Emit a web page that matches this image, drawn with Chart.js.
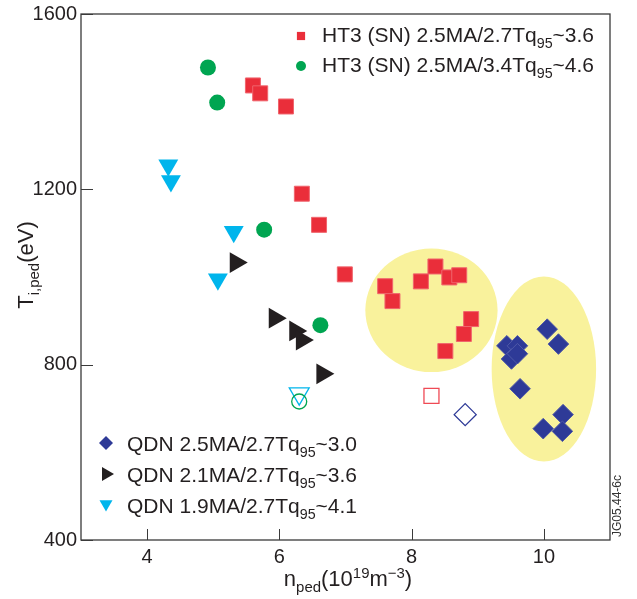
<!DOCTYPE html>
<html>
<head>
<meta charset="utf-8">
<script src="https://cdn.jsdelivr.net/npm/chart.js@4/dist/chart.umd.min.js"></script>
<style>
  html, body { margin: 0; padding: 0; background: #fff; }
</style>
</head>
<body>
<canvas id="chart" width="637" height="599"></canvas>
<script>
// ---- data (n_ped in 1e19 m^-3, T_i,ped in eV) ----
const xTicks = [4, 6, 8, 10];
const yTicks = [400, 800, 1200, 1600];

const ht3Sq = [[5.60,1437],[5.71,1419],[6.10,1389],[6.34,1190],[6.60,1119],[6.99,1006],
  [7.60,979],[7.71,945],[8.14,990],[8.36,1024],[8.57,999],[8.72,1004],[8.90,904],[8.79,870],[8.51,831]];
const ht3Circ = [[4.92,1478],[5.06,1398],[5.77,1108],[6.62,890]];
const qdn25 = [[9.44,843],[9.60,843],[9.51,813],[9.60,825],[10.05,881],[10.22,847],
  [9.64,745],[9.99,654],[10.29,686],[10.28,648]];
const qdn21 = [[5.34,1033],[5.93,906],[6.24,877],[6.34,856],[6.65,779]];
const qdn19 = [[4.32,1255],[4.36,1219],[5.31,1103],[5.07,995]];

// open symbols
const ht3SqOpen = [[8.30,729]];
const ht3CircOpen = [[6.30,716]];
const qdn25Open = [[8.81,686]];
const qdn19Open = [[6.30,734]];

// highlighted regions: [cx, cy, rx, ry] in data units
const regions = [[8.30, 924, 1.0, 141], [10.0, 790, 0.79, 211]];

const FONT = '"Liberation Sans", Arial, Helvetica, sans-serif';
const RED = '#ea2e3a', GREEN = '#00a551', BLUE = '#2e3a97', BLACK = '#231f20', CYAN = '#00b5ec';

const pts = a => a.map(p => ({x: p[0], y: p[1]}));

function drawRich(ctx, parts, x, y, size) {
  let cx = x;
  for (const p of parts) {
    const s = p.s ? size * 0.68 : size;
    ctx.font = s + 'px ' + FONT;
    const dy = p.s === 'sub' ? size * 0.28 : p.s === 'sup' ? -size * 0.38 : 0;
    ctx.fillText(p.t, cx, y + dy);
    cx += ctx.measureText(p.t).width;
  }
  return cx - x;
}
function richWidth(ctx, parts, size) {
  let w = 0;
  for (const p of parts) {
    ctx.font = (p.s ? size * 0.68 : size) + 'px ' + FONT;
    w += ctx.measureText(p.t).width;
  }
  return w;
}

const legendItems = [
  {x: 301, y: 36, tx: 322, ty: 42, style: 'rect', r: 5.8, rot: 0, color: RED,
   parts: [{t: 'HT3 (SN) 2.5MA/2.7Tq'}, {t: '95', s: 'sub'}, {t: '~3.6'}]},
  {x: 301, y: 66, tx: 322, ty: 72, style: 'circle', r: 5, rot: 0, color: GREEN,
   parts: [{t: 'HT3 (SN) 2.5MA/3.4Tq'}, {t: '95', s: 'sub'}, {t: '~4.6'}]},
  {x: 106, y: 443, tx: 127, ty: 451, style: 'rectRot', r: 7, rot: 0, color: BLUE,
   parts: [{t: 'QDN 2.5MA/2.7Tq'}, {t: '95', s: 'sub'}, {t: '~3.0'}]},
  {x: 106, y: 474, tx: 127, ty: 482, style: 'triangle', r: 8, rot: 90, color: BLACK,
   parts: [{t: 'QDN 2.1MA/2.7Tq'}, {t: '95', s: 'sub'}, {t: '~3.6'}]},
  {x: 106, y: 504, tx: 127, ty: 513, style: 'triangle', r: 7.5, rot: 180, color: CYAN,
   parts: [{t: 'QDN 1.9MA/2.7Tq'}, {t: '95', s: 'sub'}, {t: '~4.1'}]}
];

const decor = {
  id: 'decor',
  beforeDatasetsDraw(chart) {
    const {ctx, scales: {x, y}} = chart;
    ctx.save();
    ctx.fillStyle = '#f9f29c';
    regions.forEach(e => {
      const px = x.getPixelForValue(e[0]), py = y.getPixelForValue(e[1]);
      const rx = Math.abs(x.getPixelForValue(e[0] + e[2]) - px);
      const ry = Math.abs(y.getPixelForValue(e[1] + e[3]) - py);
      ctx.beginPath();
      ctx.ellipse(px, py, rx, ry, 0, 0, Math.PI * 2);
      ctx.fill();
    });
    ctx.restore();
  },
  afterDatasetsDraw(chart) {
    const {ctx, chartArea: a, scales: {x, y}} = chart;
    ctx.save();
    // frame
    ctx.strokeStyle = '#3a3a3a';
    ctx.lineWidth = 1.3;
    ctx.strokeRect(a.left, a.top, a.right - a.left, a.bottom - a.top);
    // inward ticks
    ctx.lineWidth = 1;
    ctx.beginPath();
    xTicks.forEach(v => {
      const px = Math.round(x.getPixelForValue(v)) + 0.5;
      ctx.moveTo(px, a.bottom); ctx.lineTo(px, a.bottom - 11);
    });
    yTicks.forEach(v => {
      const py = Math.round(y.getPixelForValue(v)) + 0.5;
      ctx.moveTo(a.left, py); ctx.lineTo(a.left + 12, py);
    });
    ctx.stroke();

    // legend
    ctx.textBaseline = 'alphabetic';
    ctx.textAlign = 'left';
    legendItems.forEach(it => {
      ctx.fillStyle = it.color;
      ctx.beginPath();
      Chart.helpers.drawPoint(ctx, {pointStyle: it.style, radius: it.r, rotation: it.rot, borderWidth: 0}, it.x, it.y);
      ctx.fillStyle = BLACK;
      drawRich(ctx, it.parts, it.tx, it.ty, 21);
    });

    // axis titles
    ctx.fillStyle = BLACK;
    const xt = [{t: 'n'}, {t: 'ped', s: 'sub'}, {t: '(10'}, {t: '19', s: 'sup'}, {t: 'm'}, {t: '\u22123', s: 'sup'}, {t: ')'}];
    const xw = richWidth(ctx, xt, 22);
    drawRich(ctx, xt, 348 - xw / 2, 586, 22);

    const yt = [{t: 'T'}, {t: 'i,ped', s: 'sub'}, {t: '(eV)'}];
    const yw = richWidth(ctx, yt, 22);
    ctx.save();
    ctx.translate(33, 265 + yw / 2);
    ctx.rotate(-Math.PI / 2);
    drawRich(ctx, yt, 0, 0, 22);
    ctx.restore();

    // figure id
    ctx.save();
    ctx.translate(621, 537);
    ctx.rotate(-Math.PI / 2);
    ctx.font = '12px ' + FONT;
    ctx.fillStyle = '#333';
    ctx.fillText('JG05.44-6c', 0, 0);
    ctx.restore();
    ctx.restore();
  }
};

const ds = (data, style, r, rot, fill, border, bw) => ({
  data: pts(data), pointStyle: style, pointRadius: r, pointHoverRadius: r, rotation: rot,
  backgroundColor: fill, borderColor: border, borderWidth: bw, showLine: false
});

new Chart(document.getElementById('chart'), {
  type: 'scatter',
  data: {
    datasets: [
      ds(ht3Sq, 'rect', 10.6, 0, RED, '#f0656d', 1),
      ds(ht3Circ, 'circle', 8, 0, GREEN, GREEN, 0),
      ds(qdn25, 'rectRot', 10.3, 0, BLUE, '#4f59a8', 1),
      ds(qdn21, 'triangle', 12, 90, BLACK, BLACK, 0),
      ds(qdn19, 'triangle', 11.5, 180, CYAN, CYAN, 0),
      ds(ht3SqOpen, 'rect', 10.6, 0, 'rgba(0,0,0,0)', '#ef4a55', 1.3),
      ds(qdn25Open, 'rectRot', 11, 0, 'rgba(0,0,0,0)', BLUE, 1.3),
      ds(ht3CircOpen, 'circle', 7.5, 0, 'rgba(0,0,0,0)', GREEN, 1.3),
      ds(qdn19Open, 'triangle', 11.5, 180, 'rgba(0,0,0,0)', CYAN, 1.3)
    ]
  },
  options: {
    responsive: false,
    animation: false,
    events: [],
    layout: {padding: {top: 10, right: 27, left: 0, bottom: 0}},
    plugins: {legend: {display: false}, tooltip: {enabled: false}},
    scales: {
      x: {
        type: 'linear', min: 3, max: 11,
        afterBuildTicks: s => { s.ticks = xTicks.map(v => ({value: v})); },
        afterFit: s => { s.height = 59; },
        grid: {display: false, drawTicks: false},
        border: {display: false},
        ticks: {font: {family: FONT, size: 20, lineHeight: 1}, color: BLACK, padding: 7, maxRotation: 0,
                callback: v => String(v)}
      },
      y: {
        min: 400, max: 1600,
        afterBuildTicks: s => { s.ticks = yTicks.map(v => ({value: v})); },
        afterFit: s => { s.width = 81; },
        grid: {display: false, drawTicks: false},
        border: {display: false},
        ticks: {font: {family: FONT, size: 20, lineHeight: 1}, color: BLACK, padding: 4,
                callback: v => String(v)}
      }
    }
  },
  plugins: [decor]
});
</script>
</body>
</html>
